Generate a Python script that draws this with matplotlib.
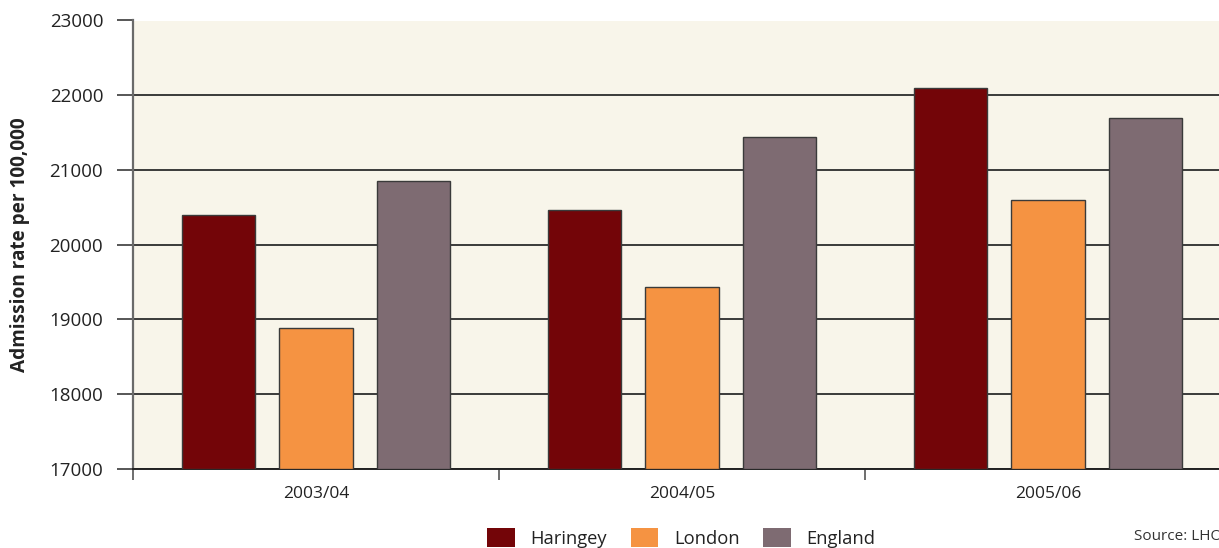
import matplotlib
matplotlib.use("Agg")
import matplotlib.pyplot as plt
from matplotlib.patches import Patch
import numpy as np

plt.rcParams['font.family'] = ['Open Sans', 'DejaVu Sans']

years = ["2003/04", "2004/05", "2005/06"]
series_names = ["Haringey", "London", "England"]
haringey = [20400, 20470, 22100]
london = [18890, 19440, 20600]
england = [20850, 21440, 21690]
colors = ["#730508", "#F59342", "#7E6B72"]
y_ticks = [17000, 18000, 19000, 20000, 21000, 22000, 23000]

fig = plt.figure(figsize=(12.19, 5.48), dpi=100)
ax = fig.add_axes([133 / 1219, 79 / 548, 1098 / 1219, 448.5 / 548])
ax.set_facecolor("#F8F5EA")

x = np.arange(len(years))
offsets = [-0.266, 0.0, 0.266]
for vals, off, col in zip([haringey, london, england], offsets, colors):
    ax.bar(x + off, np.array(vals) - 17000, bottom=17000, width=0.2,
           color=col, edgecolor="#3a3a3a", linewidth=1.0, zorder=3)

ax.set_xlim(-0.5, 2.5)
ax.set_ylim(17000, 23000)
ax.set_yticks(y_ticks)
ax.set_yticklabels([str(t) for t in y_ticks], fontsize=13.5, color="#222222")
ax.yaxis.grid(True, color="#3a3a3a", linewidth=1.4, zorder=0)
ax.tick_params(axis="y", length=11.5, width=1.2, color="#3a3a3a", pad=10)

ax.set_xticks(x)
ax.set_xticklabels(years, fontsize=12.5, color="#222222")
ax.tick_params(axis="x", which="major", length=0, pad=12)
ax.set_xticks([-0.5, 0.5, 1.5, 2.5], minor=True)
ax.tick_params(axis="x", which="minor", length=8, width=1.2, color="#555555")

for side in ["top", "right"]:
    ax.spines[side].set_visible(False)
ax.spines["left"].set_color("#6a6a6a")
ax.spines["left"].set_linewidth(1.6)
ax.spines["bottom"].set_color("#222222")
ax.spines["bottom"].set_linewidth(1.4)

ax.set_ylabel("Admission rate per 100,000", fontsize=13.7, fontweight="bold",
              color="#222222", labelpad=14)

handles = [Patch(facecolor=c, edgecolor="none") for c in colors]
fig.legend(handles, series_names, loc="center", bbox_to_anchor=(0.559, 0.018),
           ncol=3, frameon=False, fontsize=13.2, handlelength=1.5,
           handleheight=1.2, handletextpad=0.85, columnspacing=1.3,
           labelcolor="#222222")

fig.text(1134 / 1219, 11 / 548, "Source: LHO", fontsize=11, color="#333333",
         va="center", ha="left")

fig.savefig("out.png", dpi=100)
